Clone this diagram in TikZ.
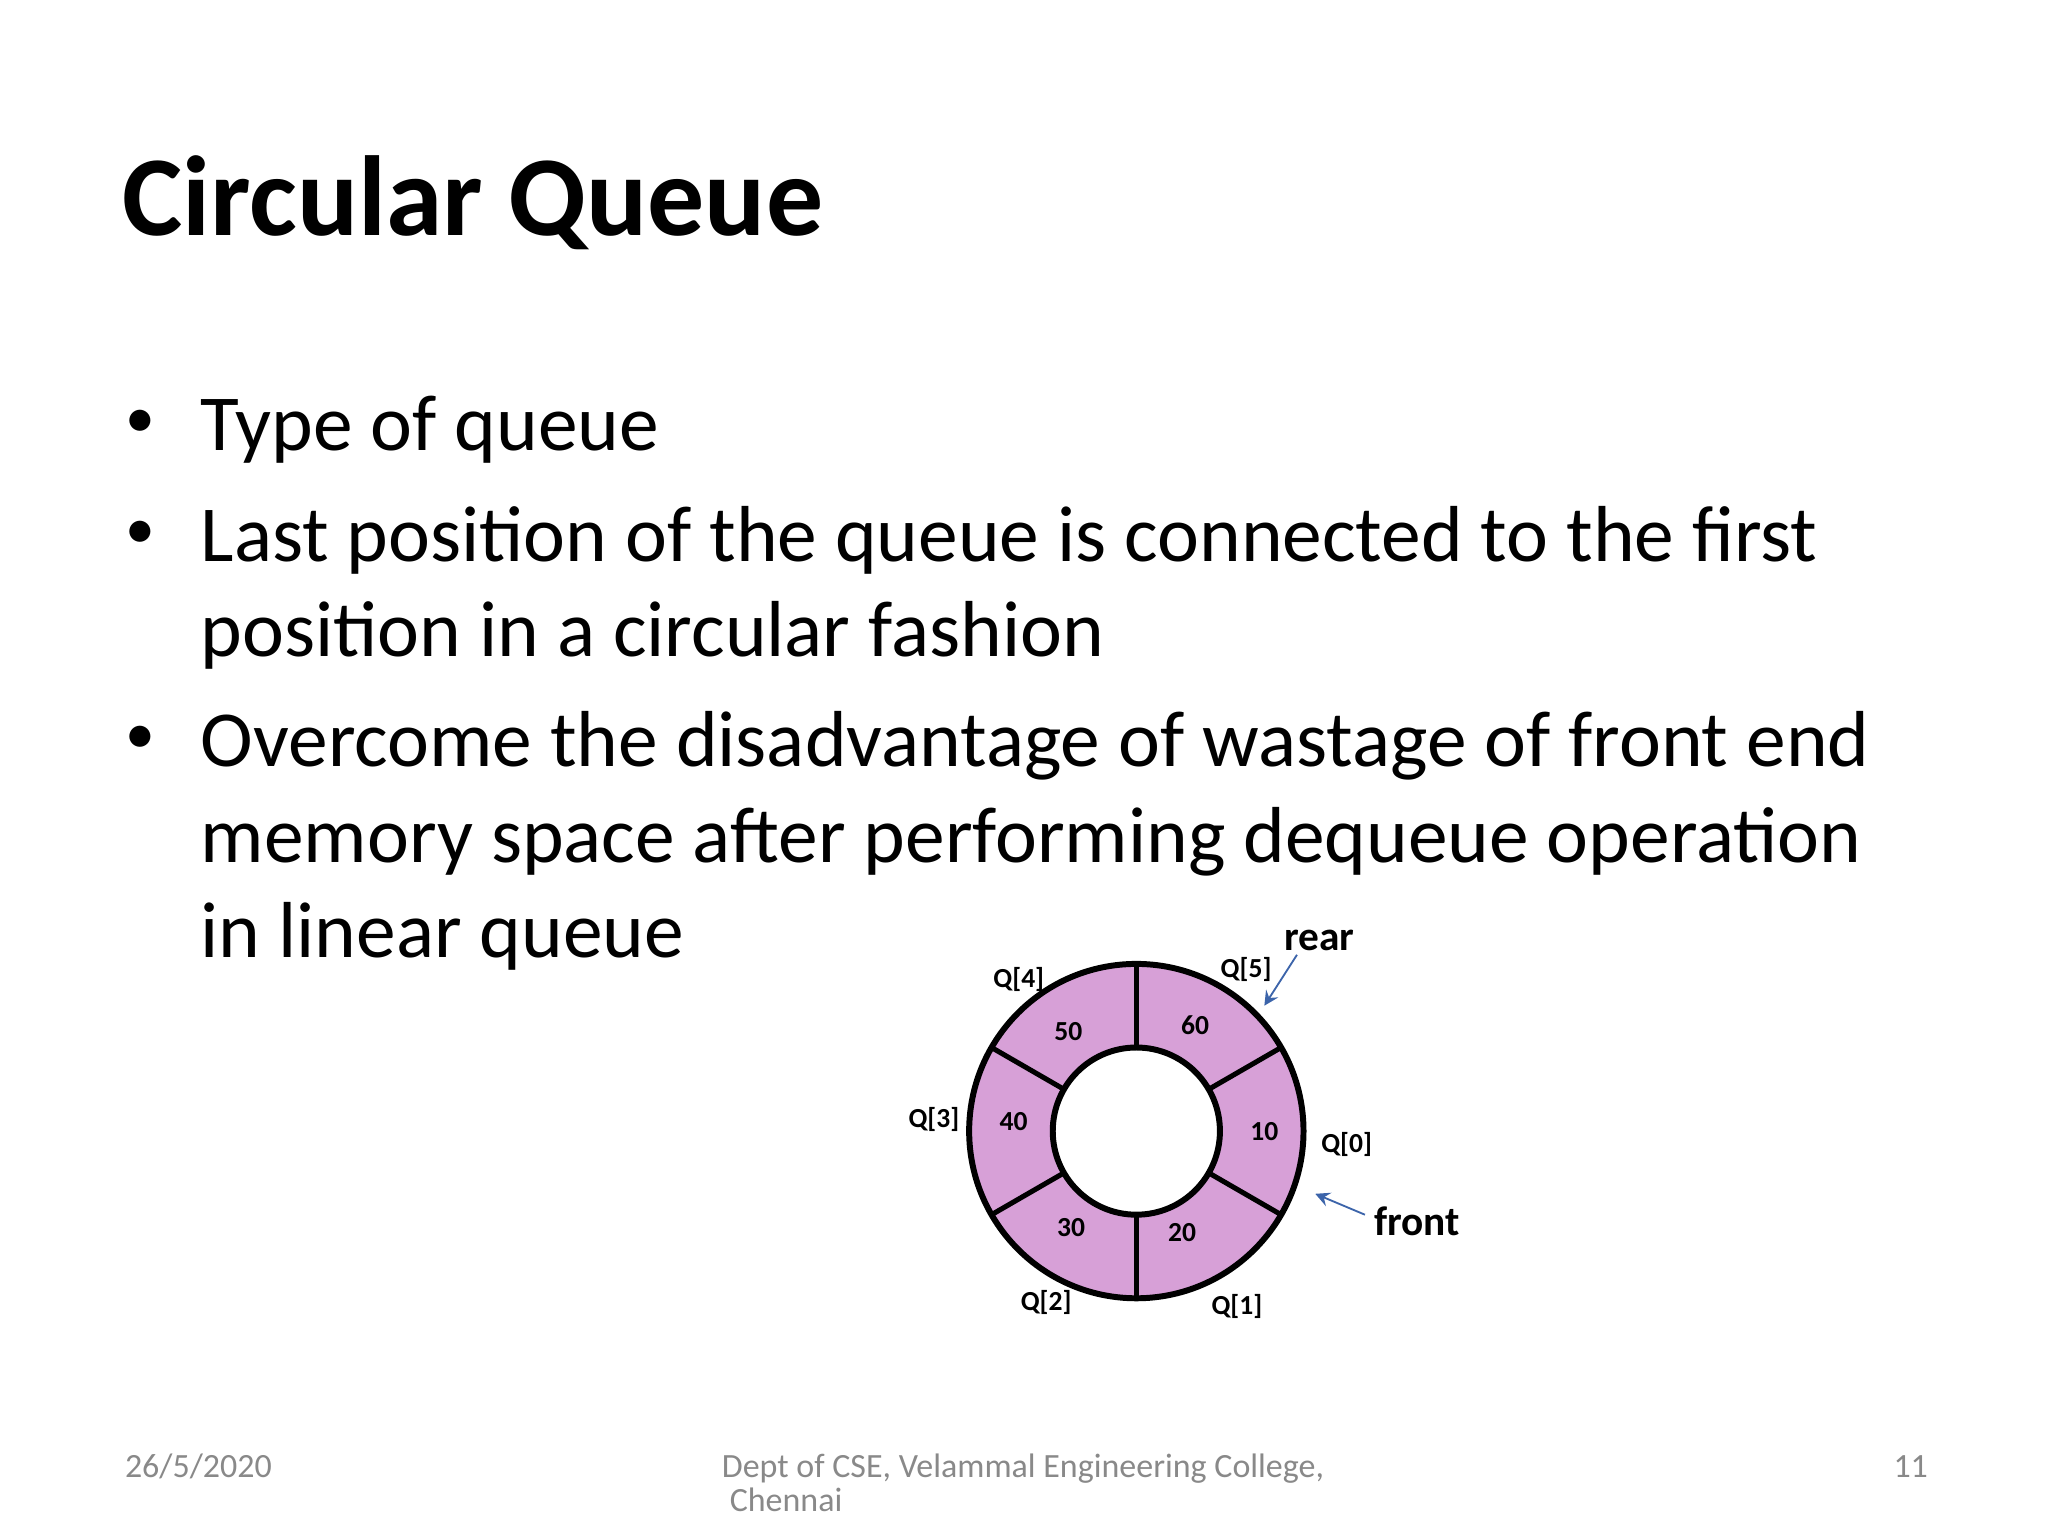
\documentclass[tikz,border=0pt]{standalone}
\usepackage{fontspec}
\setmainfont{Carlito}
\usepackage{tikz}
\usetikzlibrary{calc}
\definecolor{slot}{RGB}{215,160,215}
\definecolor{arrowblue}{RGB}{60,100,170}
\definecolor{foot}{RGB}{137,137,137}

\begin{document}
\begin{tikzpicture}[
    bodytext/.style={anchor=base west, inner sep=0pt, font=\fontsize{17.3}{21}\selectfont},
    qlabel/.style={inner sep=0pt, font=\fontsize{6}{7}\selectfont\bfseries},
    footer/.style={anchor=base west, inner sep=0pt, text=foot, font=\fontsize{7.4}{9}\selectfont}]
    \useasboundingbox (0,0) rectangle (15.68,-11.76);

    % Title and bullets
    \node[anchor=base west, inner sep=0pt, font=\fontsize{24.8}{30}\selectfont\bfseries] (title) at (0.93,-1.80) {Circular Queue};
    \foreach \name/\y in {b1/3.45, b2/4.30, b3/5.87} {
        \node[bodytext, font=\fontsize{13}{15}\selectfont] (\name) at (0.95,-\y+0.1) {\textbullet};
    }
    \node[bodytext] (t1) at (1.53,-3.45) {Type of queue};
    \node[bodytext] (t2) at (1.53,-4.30) {Last position of the queue is connected to the first};
    \node[bodytext] (t3) at (1.53,-5.03) {position in a circular fashion};
    \node[bodytext] (t4) at (1.53,-5.87) {Overcome the disadvantage of wastage of front end};
    \node[bodytext] (t5) at (1.53,-6.60) {memory space after performing dequeue operation};
    \node[bodytext] (t6) at (1.53,-7.33) {in linear queue};

    % Ring
    \coordinate (C) at (8.70,-8.66);
    \fill[slot, even odd rule] (C) circle (1.28) (C) circle (0.64);
    \draw[line width=1.3pt] (C) circle (1.28) (C) circle (0.64);
    \foreach \a in {90,30,-30,-90,-150,150} {
        \draw[line width=1.1pt] ($(C)+(\a:0.64)$) -- ($(C)+(\a:1.28)$);
    }
    \foreach \v/\x/\y in {60/9.15/7.85, 10/9.68/8.66, 20/9.05/9.44, 30/8.20/9.40, 40/7.76/8.59, 50/8.18/7.90} {
        \node[qlabel] (v\v) at (\x,-\y) {\v};
    }

    % Index labels
    \node[qlabel] (q0) at (10.31,-8.76) {Q[0]};
    \node[qlabel] (q1) at (9.47,-10.00) {Q[1]};
    \node[qlabel] (q2) at (8.01,-9.97) {Q[2]};
    \node[qlabel] (q3) at (7.15,-8.57) {Q[3]};
    \node[qlabel] (q4) at (7.80,-7.50) {Q[4]};
    \node[qlabel] (q5) at (9.54,-7.42) {Q[5]};

    % Pointers
    \node[inner sep=0pt, font=\fontsize{9}{11}\selectfont\bfseries] (rear) at (10.10,-7.20) {rear};
    \node[inner sep=0pt, font=\fontsize{9}{11}\selectfont\bfseries] (front) at (10.85,-9.35) {front};
    \coordinate (rearend) at (9.68,-7.70);
    \coordinate (frontend) at (10.07,-9.14);
    \draw[arrowblue, ->, >=stealth, line width=0.4pt] (9.93,-7.31) -- (rearend);
    \draw[arrowblue, ->, >=stealth, line width=0.4pt] (10.45,-9.30) -- (frontend);

    % Footer
    \node[footer] (date) at (0.95,-11.31) {26/5/2020};
    \node[footer] (dept) at (5.52,-11.31) {Dept of CSE, Velammal Engineering College,};
    \node[footer] (city) at (5.58,-11.57) {Chennai};
    \node[footer] (page) at (14.49,-11.31) {11};
\end{tikzpicture}
\end{document}
